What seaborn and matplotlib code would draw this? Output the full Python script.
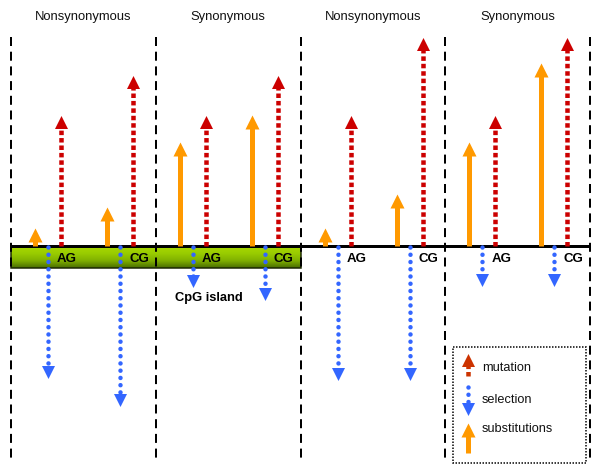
import numpy as np
import pandas as pd
import matplotlib
matplotlib.use("Agg")
import matplotlib.pyplot as plt
from matplotlib.patches import Rectangle
from matplotlib.colors import LinearSegmentedColormap
import seaborn as sns

# paineis e sitios
panels = ["Nonsynonymous", "Synonymous", "Nonsynonymous", "Synonymous"]
sites = ["AG", "CG"]
cpg_island = [True, True, False, False]

# comprimento das setas (pixels a partir da linha base), por painel e sitio
mutation = [[131, 171], [131, 171], [131, 209], [131, 209]]
selection = [[132, 160], [41, 54], [134, 134], [40, 40]]
substitution = [[18, 39], [104, 131], [18, 52], [104, 183]]

legend_labels = ["mutation", "selection", "substitutions"]

RED = "#cc0000"
BLUE = "#3366ff"
ORANGE = "#ff9900"
PX = 0.72  # 1 pixel em pontos (dpi 100)

sns.set_theme(style="white")
plt.rcParams["font.family"] = ["Liberation Sans", "DejaVu Sans"]

fig = plt.figure(figsize=(6, 4.74), dpi=100)
ax = fig.add_axes([0, 0, 1, 1])

base = 246
edges = np.linspace(11, 590, len(panels) + 1)
site_off = [37, 109]  # posicao da seta azul dentro do painel

heads = []


def seta(x, y0, y1, color, style, lw, hw, cap="butt", z=4):
    up = y1 < y0
    sgn = -1 if up else 1
    ax.plot([x, x], [y0, y1 - sgn * hw * 0.8], color=color, lw=lw * PX,
            linestyle=style, dash_capstyle=cap, solid_capstyle="butt", zorder=z)
    heads.append(dict(x=x, y=y1 - sgn * hw / 2, cor=color,
                      marker="^" if up else "v", size=hw))


RED_LS = (0, (1.0, 0.65))
BLUE_LS = (0, (0.01, 1.6))

# ilha CpG (barra verde com degrade)
cmap = LinearSegmentedColormap.from_list("g", ["#a8d800", "#99cc00", "#80b000", "#4a6e00"])
grad = np.linspace(0, 1, 50).reshape(-1, 1)
isl = [i for i, c in enumerate(cpg_island) if c]
x_a, x_b = edges[min(isl)], edges[max(isl) + 1]
ax.imshow(grad, cmap=cmap, extent=[x_a, x_b, 268, base], origin="upper",
          aspect="auto", zorder=1)
ax.add_patch(Rectangle((x_a, base), x_b - x_a, 22, fill=False,
                       edgecolor="#1a2600", lw=1.5 * PX, zorder=2))

# linhas divisorias tracejadas
for e in edges:
    ax.plot([e, e], [37, 458], color="black", lw=2 * PX,
            linestyle=(0, (4.5, 2.85)), zorder=3)

# linha base
ax.plot([edges[0], edges[-1]], [base, base], color="black", lw=3 * PX,
        solid_capstyle="butt", zorder=3)

for i, titulo in enumerate(panels):
    x0 = edges[i]
    ax.text((edges[i] + edges[i + 1]) / 2, 17, titulo, ha="center", va="center",
            fontsize=9.4, color="#111111")
    for j, site in enumerate(sites):
        xb = x0 + site_off[j]
        seta(xb - 13, base, base - substitution[i][j], ORANGE, "-", 5, 14)
        seta(xb, base + 1, base + selection[i][j], BLUE, BLUE_LS, 4.5, 13, cap="round", z=5)
        seta(xb + 13, base, base - mutation[i][j], RED, RED_LS, 4.5, 13)
        ax.text(xb + 19, 259, site, ha="center", va="center", fontsize=9.5,
                fontweight="bold", color="black", zorder=6)

ax.text(209, 298, "CpG island", ha="center", va="center", fontsize=9.3,
        fontweight="bold", color="black")

# legenda
ax.add_patch(Rectangle((453, 347), 133, 116, fill=False, edgecolor="black",
                       lw=1.5 * PX, linestyle=(0, (1, 1)), zorder=3))
seta(468, 376, 353, "#cc3300", RED_LS, 4.5, 13)
seta(468, 387, 415, BLUE, BLUE_LS, 4.5, 13, cap="round")
seta(468, 453, 423, ORANGE, "-", 5, 14)
for lab, yy in zip(legend_labels, [368, 400, 429]):
    ax.text(482, yy, lab, ha="left", va="center", fontsize=9.2, color="#111111")

# pontas das setas
df = pd.DataFrame(heads)
for (cor, mk, sz), g in df.groupby(["cor", "marker", "size"]):
    sns.scatterplot(data=g, x="x", y="y", marker=mk, color=cor,
                    s=(sz * PX) ** 2, linewidth=0, ax=ax, zorder=6, legend=False)

ax.set_xlim(0, 600)
ax.set_ylim(474, 0)
ax.axis("off")
fig.savefig("out.png", dpi=100)
